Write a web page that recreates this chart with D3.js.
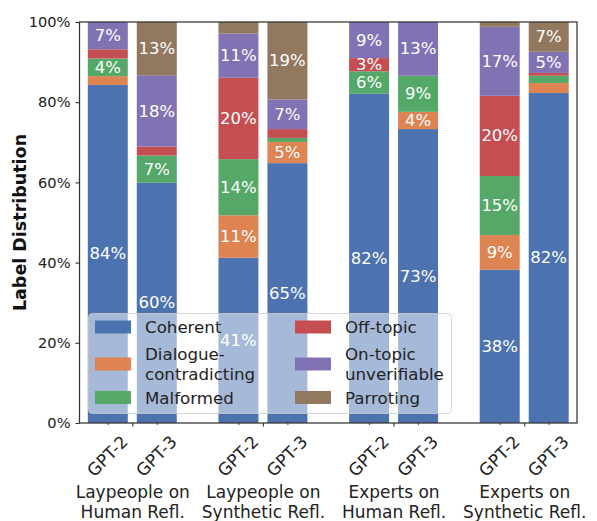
<!DOCTYPE html>
<html>
<head>
<meta charset="utf-8">
<script src="https://cdn.jsdelivr.net/npm/d3@7"></script>
<style>
  html, body { margin: 0; padding: 0; background: #fff; }
  svg { display: block; font-family: "DejaVu Sans", sans-serif; }
  svg text { font-family: "DejaVu Sans", sans-serif; }
</style>
</head>
<body>
<svg id="chart" width="597" height="521"></svg>
<script>
// ---------------- data ----------------
const groups = [["Laypeople on", "Human Refl."], ["Laypeople on", "Synthetic Refl."], ["Experts on", "Human Refl."], ["Experts on", "Synthetic Refl."]];
const models = ["GPT-2", "GPT-3"];
const categories = ["Coherent", "Dialogue-contradicting", "Malformed", "Off-topic", "On-topic unverifiable", "Parroting"];
const legendLabels = [["Coherent"], ["Dialogue-", "contradicting"], ["Malformed"], ["Off-topic"], ["On-topic", "unverifiable"], ["Parroting"]];
const colors = ["#4C72B0", "#DD8452", "#55A868", "#C44E52", "#8172B3", "#937860"];
// values in %, order of bars: group0 GPT-2, group0 GPT-3, group1 GPT-2, ...
const coherent  = [84.3, 59.9, 41.2, 64.8, 82.1, 73.3, 38.2, 82.3];
const dialogue  = [2.2, 0.0, 10.6, 5.3, 0.0, 4.3, 8.7, 2.5];
const malformed = [4.4, 6.8, 14.0, 1.0, 5.6, 9.0, 14.7, 1.8];
const offtopic  = [2.3, 2.2, 20.3, 2.2, 3.3, 0.0, 20.0, 0.7];
const ontopic   = [6.8, 17.8, 11.0, 7.4, 9.0, 13.4, 17.2, 5.3];
const parroting = [0.0, 13.3, 2.9, 19.3, 0.0, 0.0, 1.2, 7.4];
const yTicks = [0, 20, 40, 60, 80, 100];
const yLabel = "Label Distribution";

const series = [coherent, dialogue, malformed, offtopic, ontopic, parroting];
const FONT = "DejaVu Sans";

// ---------------- layout ----------------
const svg = d3.select("#chart");
const L = 79.5, R = 577, T = 22, B = 423;
const x = d3.scaleLinear().domain([-0.404, 3.404]).range([L, R]);
const y = d3.scaleLinear().domain([0, 100]).range([B, T]);
const barOffset = 0.1875, barW = 0.306;

const bars = [];
groups.forEach((g, gi) => models.forEach((m, mi) => {
  bars.push({ gi, mi, center: gi + (mi === 0 ? -barOffset : barOffset) });
}));

// stacked segments
const segs = [];
bars.forEach((b, bi) => {
  let acc = 0;
  series.forEach((s, ci) => {
    const v = s[bi];
    segs.push({ bi, ci, y0: acc, y1: acc + v, v, center: b.center });
    acc += v;
  });
});

const plot = svg.append("g");
const wPx = x(barW) - x(0);
plot.selectAll("rect.seg").data(segs.filter(d => d.v > 0)).join("rect")
  .attr("class", "seg")
  .attr("x", d => x(d.center) - wPx / 2)
  .attr("width", wPx)
  .attr("y", d => y(d.y1))
  .attr("height", d => y(d.y0) - y(d.y1))
  .attr("fill", d => colors[d.ci]);

plot.selectAll("text.val").data(segs.filter(d => d.v >= 3)).join("text")
  .attr("class", "val")
  .attr("x", d => x(d.center))
  .attr("y", d => y((d.y0 + d.y1) / 2))
  .attr("text-anchor", "middle")
  .attr("dominant-baseline", "central")
  .attr("fill", "#fff")
  .attr("font-family", FONT)
  .attr("font-size", 16.5)
  .text(d => Math.round(d.v) + "%");

// ---------------- axes ----------------
const axisColor = "#333";
const yAxis = d3.axisLeft(y).tickValues(yTicks).tickFormat(d => d + "%").tickSize(4).tickPadding(5);
const gy = svg.append("g").attr("transform", `translate(${L},0)`).call(yAxis).attr("font-family", FONT);
gy.select(".domain").remove();
gy.selectAll(".tick line").attr("stroke", axisColor).attr("stroke-width", 1.1);
gy.selectAll(".tick text").attr("font-size", 14.6).attr("fill", "#222").attr("font-family", FONT);

// minor x ticks at bar centers (model labels)
const xMinor = d3.axisBottom(x).tickValues(bars.map(b => b.center)).tickSize(2).tickFormat("");
const gxm = svg.append("g").attr("transform", `translate(0,${B})`).call(xMinor).attr("font-family", FONT);
gxm.select(".domain").remove();
gxm.selectAll(".tick line").attr("stroke", axisColor).attr("stroke-width", 0.9);
gxm.selectAll(".tick").append("text")
  .attr("transform", `translate(-1,33) rotate(-45)`)
  .attr("text-anchor", "middle")
  .attr("dominant-baseline", "central")
  .attr("fill", "#222")
  .attr("font-family", FONT)
  .attr("font-size", 17)
  .text((d, i) => models[bars[i].mi]);

// major x ticks at group centers (group labels)
const xMajor = d3.axisBottom(x).tickValues(groups.map((g, i) => i)).tickSize(3.5).tickFormat("");
const gxM = svg.append("g").attr("transform", `translate(0,${B})`).call(xMajor).attr("font-family", FONT);
gxM.select(".domain").remove();
gxM.selectAll(".tick line").attr("stroke", axisColor).attr("stroke-width", 1.1);
gxM.selectAll(".tick").each(function (d, i) {
  const t = d3.select(this).append("text")
    .attr("text-anchor", "middle")
    .attr("fill", "#222")
    .attr("font-family", FONT)
    .attr("font-size", 17);
  groups[i].forEach((line, li) => {
    t.append("tspan").attr("x", 0).attr("y", 75 + li * 19.5).text(line);
  });
});

// frame (spines)
svg.append("rect")
  .attr("x", L).attr("y", T).attr("width", R - L).attr("height", B - T)
  .attr("fill", "none").attr("stroke", axisColor).attr("stroke-width", 1.25);

// y label
svg.append("text")
  .attr("transform", `translate(20,${(T + B) / 2}) rotate(-90)`)
  .attr("text-anchor", "middle")
  .attr("dominant-baseline", "central")
  .attr("font-weight", "bold")
  .attr("font-family", FONT)
  .attr("font-size", 17.5)
  .attr("fill", "#111")
  .text(yLabel);

// ---------------- legend ----------------
const leg = svg.append("g");
leg.append("rect")
  .attr("x", 88.5).attr("y", 313.5).attr("width", 363).attr("height", 100)
  .attr("rx", 4).attr("ry", 4)
  .attr("fill", "#fff").attr("fill-opacity", 0.5)
  .attr("stroke", "#ccc").attr("stroke-opacity", 0.8).attr("stroke-width", 1);
const rowY = [327, 364, 397.5];
const colX = [95, 295];
categories.forEach((c, i) => {
  const col = Math.floor(i / 3), row = i % 3;
  const cy = rowY[row];
  leg.append("rect")
    .attr("x", colX[col]).attr("y", cy - 6.5)
    .attr("width", 36).attr("height", 13)
    .attr("fill", colors[i]);
  const lines = legendLabels[i];
  const t = leg.append("text")
    .attr("font-size", 16.67).attr("fill", "#222")
    .attr("font-family", FONT)
    .attr("dominant-baseline", "central");
  lines.forEach((ln, li) => {
    t.append("tspan")
      .attr("x", colX[col] + 50)
      .attr("y", cy + (li - (lines.length - 1) / 2) * 19.5)
      .text(ln);
  });
});
</script>
</body>
</html>
